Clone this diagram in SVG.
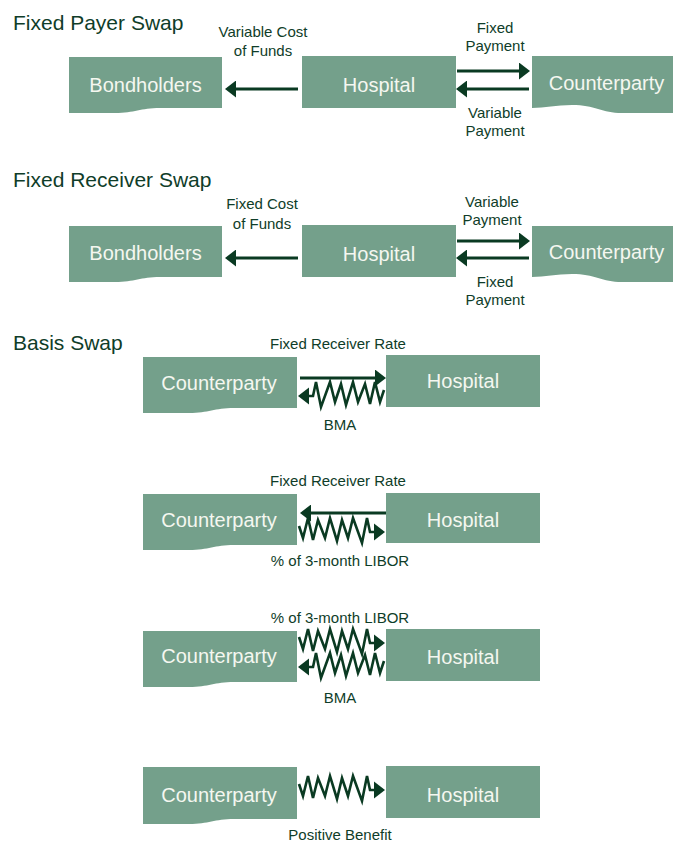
<svg xmlns="http://www.w3.org/2000/svg" width="673" height="844" viewBox="0 0 673 844">
  <style>
    .box{fill:#74a08b}
    .nt{font-family:"Liberation Sans",Arial,sans-serif;font-size:20px;fill:#f5f7f0;text-anchor:middle}
    .lb{font-family:"Liberation Sans",Arial,sans-serif;font-size:15px;fill:#0f3d29;text-anchor:middle}
    .tt{font-family:"Liberation Sans",Arial,sans-serif;font-size:21px;fill:#0f3d29}
    .ln{stroke:#0a3a22;stroke-width:3;fill:none}
    .zz{stroke:#0a3a22;stroke-width:2.6;fill:none;stroke-linejoin:miter}
    .hd{fill:#0a3a22}
  </style>
  <defs>
    <marker id="ah" viewBox="0 0 11 17" refX="2" refY="8.5" markerWidth="11" markerHeight="17" markerUnits="userSpaceOnUse" orient="auto">
      <path d="M0,0 L11,8.5 L0,17 Z" class="hd"/>
    </marker>
    <!-- floating-rate (jagged) arrow, tip at origin, pointing right -->
    <g id="zzr">
      <polyline class="zz" points="-86,-6 -82,6 -77,-14 -72,8 -67,-12 -60,6 -55,-14 -48,9 -43,-12 -37,6 -32,-14 -23,11 -18,-14 -15,0 -9,0"/>
      <path class="hd" d="M0,0 L-11,-8.5 L-11,8.5 Z"/>
    </g>
  </defs>

  <!-- section titles -->
  <text class="tt" x="13" y="30">Fixed Payer Swap</text>
  <text class="tt" x="13" y="187">Fixed Receiver Swap</text>
  <text class="tt" x="13" y="350">Basis Swap</text>

  <!-- Fixed payer swap -->
  <g id="fp-bondholders">
    <path class="box" d="M69,57 H222 V108 H160 C140,108 135,113 115,113 H69 Z"/>
    <text class="nt" x="145.5" y="92">Bondholders</text>
  </g>
  <g id="fp-hospital">
    <rect class="box" x="302" y="56" width="154" height="52"/>
    <text class="nt" x="379" y="92">Hospital</text>
  </g>
  <g id="fp-counterparty">
    <path class="box" d="M532,56 H673 V113 H622 C602,113 595,105 572,105 C556,105 545,108 532,108 Z"/>
    <text class="nt" x="606.5" y="90">Counterparty</text>
  </g>

  <!-- Fixed receiver swap -->
  <g id="fr-bondholders">
    <path class="box" d="M69,226 H222 V277 H160 C140,277 135,282 115,282 H69 Z"/>
    <text class="nt" x="145.5" y="260">Bondholders</text>
  </g>
  <g id="fr-hospital">
    <rect class="box" x="302" y="225" width="154" height="52"/>
    <text class="nt" x="379" y="261">Hospital</text>
  </g>
  <g id="fr-counterparty">
    <path class="box" d="M532,226 H673 V282 H622 C602,282 595,274 572,274 C556,274 545,277 532,277 Z"/>
    <text class="nt" x="606.5" y="259">Counterparty</text>
  </g>

  <!-- Basis swaps -->
  <g id="b1-counterparty">
    <path class="box" d="M143,357 H297 V408 H234 C214,408 209,413 189,413 H143 Z"/>
    <text class="nt" x="219" y="390">Counterparty</text>
  </g>
  <g id="b1-hospital">
    <rect class="box" x="386" y="355" width="154" height="52"/>
    <text class="nt" x="463" y="388">Hospital</text>
  </g>
  <g id="b2-counterparty">
    <path class="box" d="M143,494 H297 V545 H234 C214,545 209,550 189,550 H143 Z"/>
    <text class="nt" x="219" y="527">Counterparty</text>
  </g>
  <g id="b2-hospital">
    <rect class="box" x="386" y="493" width="154" height="50"/>
    <text class="nt" x="463" y="527">Hospital</text>
  </g>
  <g id="b3-counterparty">
    <path class="box" d="M143,631 H297 V682 H234 C214,682 209,687 189,687 H143 Z"/>
    <text class="nt" x="219" y="663">Counterparty</text>
  </g>
  <g id="b3-hospital">
    <rect class="box" x="386" y="629" width="154" height="52"/>
    <text class="nt" x="463" y="664">Hospital</text>
  </g>
  <g id="b4-counterparty">
    <path class="box" d="M143,767 H297 V819 H234 C214,819 209,824 189,824 H143 Z"/>
    <text class="nt" x="219" y="802">Counterparty</text>
  </g>
  <g id="b4-hospital">
    <rect class="box" x="386" y="766" width="154" height="52"/>
    <text class="nt" x="463" y="802">Hospital</text>
  </g>

  <!-- connectors -->
  <g id="connectors">
    <path class="ln" d="M298,89 H234" marker-end="url(#ah)"/>
    <path class="ln" d="M457,71 H521" marker-end="url(#ah)"/>
    <path class="ln" d="M529,89 H465" marker-end="url(#ah)"/>

    <path class="ln" d="M298,258 H234" marker-end="url(#ah)"/>
    <path class="ln" d="M457,241 H521" marker-end="url(#ah)"/>
    <path class="ln" d="M529,258 H465" marker-end="url(#ah)"/>

    <path class="ln" d="M300,378 H377" marker-end="url(#ah)"/>
    <use href="#zzr" transform="translate(298,396) scale(-1,1)"/>

    <path class="ln" d="M386,513 H309" marker-end="url(#ah)"/>
    <use href="#zzr" transform="translate(385,532)"/>

    <use href="#zzr" transform="translate(385,643)"/>
    <use href="#zzr" transform="translate(298,667) scale(-1,1)"/>

    <use href="#zzr" transform="translate(385,790)"/>
  </g>

  <!-- connector labels -->
  <g id="labels">
    <text class="lb" x="263" y="37">Variable Cost</text>
    <text class="lb" x="263" y="56">of Funds</text>
    <text class="lb" x="495" y="33">Fixed</text>
    <text class="lb" x="495" y="51">Payment</text>
    <text class="lb" x="495" y="118">Variable</text>
    <text class="lb" x="495" y="136">Payment</text>

    <text class="lb" x="262" y="209">Fixed Cost</text>
    <text class="lb" x="262" y="229">of Funds</text>
    <text class="lb" x="492" y="207">Variable</text>
    <text class="lb" x="492" y="225">Payment</text>
    <text class="lb" x="495" y="287">Fixed</text>
    <text class="lb" x="495" y="305">Payment</text>

    <text class="lb" x="338" y="349">Fixed Receiver Rate</text>
    <text class="lb" x="340" y="430">BMA</text>
    <text class="lb" x="338" y="486">Fixed Receiver Rate</text>
    <text class="lb" x="340" y="566">% of 3-month LIBOR</text>
    <text class="lb" x="340" y="623">% of 3-month LIBOR</text>
    <text class="lb" x="340" y="703">BMA</text>
    <text class="lb" x="340" y="840">Positive Benefit</text>
  </g>
</svg>
